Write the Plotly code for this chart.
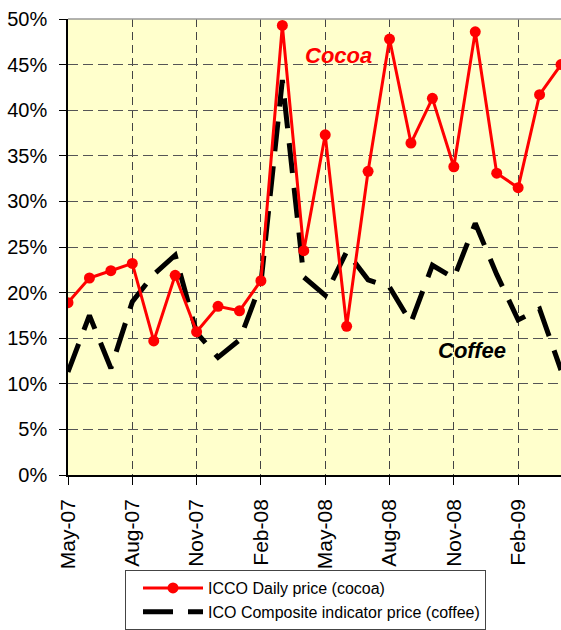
import plotly.graph_objects as go

months = ["May-07", "Jun-07", "Jul-07", "Aug-07", "Sep-07", "Oct-07", "Nov-07", "Dec-07",
          "Jan-08", "Feb-08", "Mar-08", "Apr-08", "May-08", "Jun-08", "Jul-08", "Aug-08",
          "Sep-08", "Oct-08", "Nov-08", "Dec-08", "Jan-09", "Feb-09", "Mar-09", "Apr-09"]
cocoa = [18.9, 21.6, 22.4, 23.2, 14.7, 21.9, 15.7, 18.5, 18.0, 21.3, 49.3, 24.6,
         37.3, 16.3, 33.3, 47.8, 36.4, 41.3, 33.8, 48.6, 33.1, 31.5, 41.7, 45.0]
coffee = [11.3, 17.5, 11.7, 19.0, 22.0, 24.1, 15.6, 12.9, 14.8, 21.0, 43.3, 21.7,
          19.7, 24.5, 21.4, 20.6, 16.7, 23.0, 21.6, 27.6, 22.0, 17.0, 18.2, 11.5]
tick_labels = ["May-07", "Aug-07", "Nov-07", "Feb-08", "May-08", "Aug-08", "Nov-08", "Feb-09"]
y_ticks = [0, 5, 10, 15, 20, 25, 30, 35, 40, 45, 50]

FONT = "Liberation Sans, Arial, sans-serif"

fig = go.Figure()
fig.add_trace(go.Scatter(
    x=months, y=coffee, mode="lines", name="ICO Composite indicator price (coffee)",
    line=dict(color="black", width=5, dash="30px,15px"), legendrank=2))
fig.add_trace(go.Scatter(
    x=months, y=cocoa, mode="lines+markers", name="ICCO Daily price (cocoa)",
    line=dict(color="#FF0000", width=3), marker=dict(color="#FF0000", size=11),
    legendrank=1))

fig.add_annotation(x=0.548, y=0.921, xref="paper", yref="paper", text="<b><i>Cocoa</i></b>",
                   xanchor="center", yanchor="middle",
                   showarrow=False, font=dict(family=FONT, size=22, color="#FF0000"))
fig.add_annotation(x=0.8195, y=0.272, xref="paper", yref="paper", text="<b><i>Coffee</i></b>",
                   xanchor="center", yanchor="middle",
                   showarrow=False, font=dict(family=FONT, size=22, color="black"))

fig.add_shape(type="line", xref="paper", yref="paper", x0=0, x1=1, y0=1, y1=1,
              line=dict(color="#999999", width=1.5))

fig.update_layout(
    width=561, height=630,
    margin=dict(l=68, r=0, t=19, b=155),
    paper_bgcolor="white", plot_bgcolor="#FFFFCC",
    font=dict(family=FONT, color="black"),
    showlegend=True,
    legend=dict(x=(125 - 68) / 493, y=(475 - 570) / 456,
                xanchor="left", yanchor="top",
                bordercolor="#444444", borderwidth=1, bgcolor="white",
                font=dict(family=FONT, size=16, color="black"),
                itemwidth=60, indentation=12),
    xaxis=dict(type="category", range=[0, 23], tickmode="array",
               tickvals=tick_labels, ticktext=tick_labels, tickangle=-90,
               tickfont=dict(family=FONT, size=21, color="black"),
               ticks="outside", ticklen=8, tickcolor="black",
               showline=True, linecolor="black", linewidth=1.5,
               showgrid=True, gridcolor="#444444", gridwidth=1, griddash="8px,5px",
               zeroline=False, automargin=False, ticklabelstandoff=6),
    yaxis=dict(range=[0, 50], tickmode="array", tickvals=y_ticks,
               ticktext=[f"{v}%" for v in y_ticks],
               tickfont=dict(family=FONT, size=20, color="black"),
               ticks="outside", ticklen=7, tickcolor="black",
               showline=True, linecolor="black", linewidth=1.5,
               showgrid=True, gridcolor="#555555", gridwidth=1, griddash="10px,5px",
               zeroline=False, ticklabelstandoff=8, automargin=False),
)

fig.write_html("out.html", config={"displayModeBar": False},
               post_script="document.body.style.margin='0';")
